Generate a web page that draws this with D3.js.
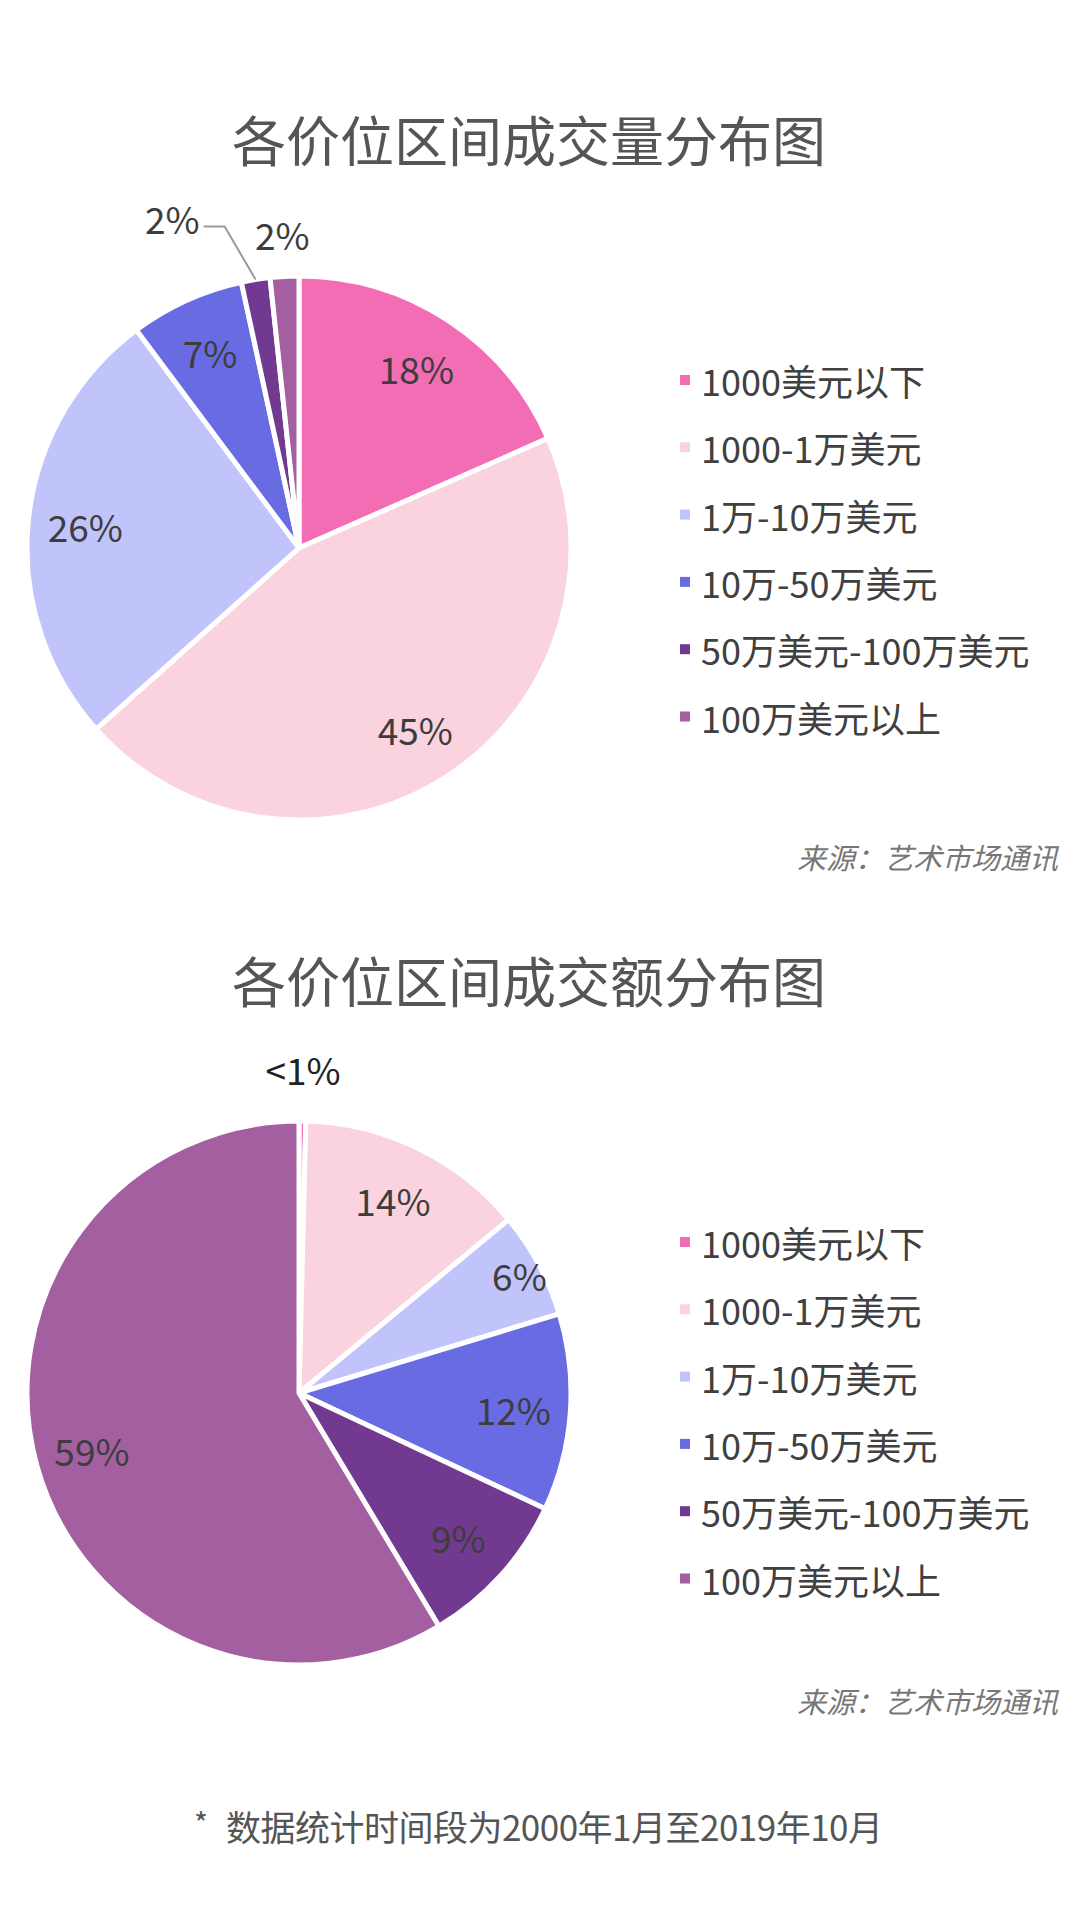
<!DOCTYPE html>
<html>
<head>
<meta charset="utf-8">
<script src="https://cdn.jsdelivr.net/npm/d3@7"></script>
<style>
  body { margin: 0; background: #fff; }
  text { font-family: "Noto Sans CJK SC", "Noto Sans", sans-serif; }
</style>
</head>
<body>
<svg id="chart"></svg>
<script>
// legend categories (same order in both pies, clockwise from 12 o'clock)
const categories = ['1000美元以下', '1000-1万美元', '1万-10万美元', '10万-50万美元', '50万美元-100万美元', '100万美元以上'];
const sliceColors = ['#f26db4', '#fad3de', '#c0c4fb', '#696be3', '#713a90', '#a35fa0'];

// share of lots sold, %
const volumeShares = [18.4, 45.0, 26.4, 6.8, 1.7, 1.7];
// share of sales value, %
const valueShares = [0.4, 13.6, 6.3, 11.7, 9.4, 58.6];

const titles = ['各价位区间成交量分布图', '各价位区间成交额分布图'];
const sourceText = '来源：艺术市场通讯';
const footnote = '数据统计时间段为2000年1月至2019年10月';

const width = 1080, height = 1931;
const radius = 272;

const svg = d3.select('#chart')
  .attr('width', width)
  .attr('height', height);

const fmt = v => v < 1 ? '<1%' : Math.round(v) + '%';

// one block = title + pie + legend + source
function drawBlock(opts) {
  const g = svg.append('g');

  g.append('text')
    .attr('x', 529)
    .attr('y', opts.titleY)
    .attr('text-anchor', 'middle')
    .attr('dominant-baseline', 'central')
    .attr('fill', '#555')
    .attr('font-size', 54)
    .text(opts.title);

  const pie = d3.pie().sort(null).value(d => d);
  const arcs = pie(opts.values);

  const arc = d3.arc().innerRadius(0).outerRadius(radius);

  const pieG = g.append('g')
    .attr('transform', `translate(${opts.cx},${opts.cy})`);

  pieG.selectAll('.slice')
    .data(arcs)
    .enter()
    .append('path')
    .attr('class', 'slice')
    .attr('d', arc)
    .attr('fill', (d, i) => sliceColors[i])
    .attr('stroke', '#fff')
    .attr('stroke-width', 5)
    .attr('stroke-linejoin', 'round');

  // labels
  arcs.forEach((d, i) => {
    const place = opts.place[i] || {};
    const r = radius * (place.k || 0.79);
    let [x, y] = d3.arc().innerRadius(r).outerRadius(r).centroid(d);
    let anchor = 'middle';

    if (place.leader) {
      const [x0, y0] = d3.arc().innerRadius(radius).outerRadius(radius).centroid(d);
      const x1 = x0 + place.dx, y1 = y0 + place.dy;
      const x2 = x1 - place.len;
      pieG.append('polyline')
        .attr('points', [[x0, y0], [x1, y1], [x2, y1]].map(p => p.join(',')).join(' '))
        .attr('fill', 'none')
        .attr('stroke', '#9a9a9a')
        .attr('stroke-width', 2);
      x = x2 - 4;
      y = y1 - 8;
      anchor = 'end';
    }

    pieG.append('text')
      .attr('x', x)
      .attr('y', y)
      .attr('text-anchor', anchor)
      .attr('dominant-baseline', 'central')
      .attr('fill', place.dark ? '#222' : '#3d3d3d')
      .attr('font-size', 37)
      .text(fmt(d.data));
  });

  // legend
  const legend = g.append('g')
    .attr('transform', `translate(680,${opts.legendY})`);

  const item = legend.selectAll('.item')
    .data(categories)
    .enter()
    .append('g')
    .attr('class', 'item')
    .attr('transform', (d, i) => `translate(0,${i * 67.3})`);

  item.append('rect')
    .attr('x', 0)
    .attr('y', -5)
    .attr('width', 10)
    .attr('height', 10)
    .attr('fill', (d, i) => sliceColors[i]);

  item.append('text')
    .attr('x', 21)
    .attr('y', 0)
    .attr('dominant-baseline', 'central')
    .attr('fill', '#404040')
    .attr('font-size', 36)
    .text(d => d);

  g.append('text')
    .attr('x', 1058)
    .attr('y', opts.sourceY)
    .attr('text-anchor', 'end')
    .attr('dominant-baseline', 'central')
    .attr('fill', '#777')
    .attr('font-size', 29)
    .attr('font-style', 'italic')
    .text(sourceText);
}

drawBlock({
  title: titles[0],
  titleY: 138,
  values: volumeShares,
  cx: 299, cy: 548,
  legendY: 380,
  sourceY: 856,
  place: { 4: { leader: true, dx: -31, dy: -53, len: 21 }, 5: { k: 1.155 } }
});

drawBlock({
  title: titles[1],
  titleY: 979,
  values: valueShares,
  cx: 299, cy: 1393,
  legendY: 1242,
  sourceY: 1700,
  place: { 0: { k: 1.19, dark: true }, 2: { k: 0.92 } }
});

// footnote
svg.append('text')
  .attr('x', 194)
  .attr('y', 1822)
  .attr('dominant-baseline', 'central')
  .attr('fill', '#555')
  .attr('font-size', 30)
  .text('*');

svg.append('text')
  .attr('x', 226)
  .attr('y', 1825)
  .attr('dominant-baseline', 'central')
  .attr('fill', '#555')
  .attr('font-size', 35)
  .attr('textLength', 657)
  .attr('lengthAdjust', 'spacing')
  .text(footnote);
</script>
</body>
</html>
